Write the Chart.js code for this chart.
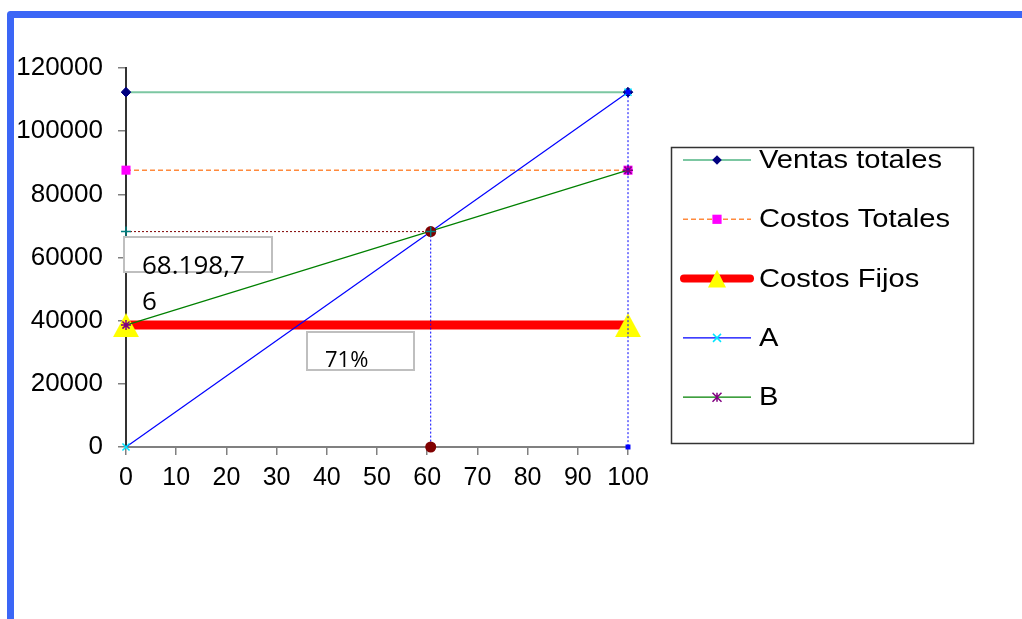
<!DOCTYPE html>
<html>
<head>
<meta charset="utf-8">
<title>Punto de equilibrio</title>
<script src="https://cdn.jsdelivr.net/npm/chart.js@4/dist/chart.umd.min.js"></script>
<style>
  html, body { margin: 0; padding: 0; background: #fff; overflow: hidden; }
  canvas { display: block; }
</style>
</head>
<body>
<canvas id="grafico" width="1022" height="619"></canvas>
<script>
// Volumen (% de la capacidad) y valores de cada serie
const volumenPct = [0, 100];
const ventasTotales = [112350, 112350];
const costosTotales = [87650, 87650];
const costosFijos = [38600, 38600];
const rectaA = [0, 112350];
const rectaB = [38600, 87650];

// Punto de equilibrio
const equilibrioPct = 60.7;
const equilibrioVentas = 68198.76;
const etiquetaEquilibrio = ['68.198,7', '6'];
const etiquetaMargen = '71%';

// Marcas de los ejes
const xTicks = [0, 10, 20, 30, 40, 50, 60, 70, 80, 90, 100];
const yTicks = [0, 20000, 40000, 60000, 80000, 100000, 120000];
const nombresSeries = ['Ventas totales', 'Costos Totales', 'Costos Fijos', 'A', 'B'];

const FUENTE = "'Liberation Sans', Arial, sans-serif";
const pares = (xs, ys) => xs.map((x, i) => ({ x, y: ys[i] }));

// Triángulo amarillo centrado por su caja (como marcador de imagen)
function triangulo(ancho, alto, color) {
  const c = document.createElement('canvas');
  c.width = ancho; c.height = alto;
  const g = c.getContext('2d');
  g.fillStyle = color;
  g.beginPath();
  g.moveTo(ancho / 2, 0); g.lineTo(ancho, alto); g.lineTo(0, alto); g.closePath();
  g.fill();
  return c;
}

const comunes = { fill: false, tension: 0, clip: false };

const series = [
  { label: nombresSeries[0], data: pares(volumenPct, ventasTotales),
    borderColor: '#7cc7a2', borderWidth: 2,
    pointStyle: 'rectRot', pointRadius: 4.8, pointBackgroundColor: '#000080', pointBorderColor: '#000080', pointBorderWidth: 1,
    order: 7, legendMarker: { style: 'diamond', size: 4.8, fill: '#000080' } },
  { label: nombresSeries[1], data: pares(volumenPct, costosTotales),
    borderColor: '#ff8a3d', borderWidth: 1.5, borderDash: [5, 3],
    pointStyle: 'rect', pointRadius: 6.4, pointBackgroundColor: '#ff00ff', pointBorderColor: '#ff00ff', pointBorderWidth: 0,
    order: 6, legendMarker: { style: 'square', size: 4.6, fill: '#ff00ff' } },
  { label: nombresSeries[2], data: pares(volumenPct, costosFijos),
    borderColor: '#ff0000', borderWidth: 9,
    pointStyle: triangulo(26, 24, '#ffff00'), pointRadius: 13,
    order: 8, legendMarker: { style: 'triangle', size: 9, fill: '#ffff00' } },
  { label: nombresSeries[3], data: pares(volumenPct, rectaA),
    borderColor: '#0000ff', borderWidth: 1.2,
    pointStyle: 'crossRot', pointRadius: 5, pointBorderColor: '#00e5ff', pointBorderWidth: 1.5,
    order: 5, legendMarker: { style: 'x', size: 4, stroke: '#00e5ff' } },
  { label: nombresSeries[4], data: pares(volumenPct, rectaB),
    borderColor: '#008000', borderWidth: 1.2,
    pointStyle: 'star', pointRadius: 5, pointBorderColor: '#800080', pointBorderWidth: 1.5,
    order: 4, legendMarker: { style: 'star', size: 4.5, stroke: '#800080' } }
];

// Líneas de referencia del punto de equilibrio (no aparecen en la leyenda)
const guias = [
  { data: [{ x: 0, y: equilibrioVentas }, { x: equilibrioPct, y: equilibrioVentas }],
    borderColor: '#800000', borderWidth: 1, borderDash: [2, 2],
    pointStyle: 'cross', pointRadius: 5, pointBorderColor: '#008080', pointBorderWidth: 1.5, order: 1, guia: true },
  { data: [{ x: equilibrioPct, y: equilibrioVentas }, { x: equilibrioPct, y: 0 }],
    borderColor: '#0000ff', borderWidth: 1, borderDash: [2, 2],
    pointStyle: 'circle', pointRadius: 5.5, pointBackgroundColor: '#800000', pointBorderColor: '#800000', pointBorderWidth: 0, order: 3, guia: true },
  { data: [{ x: 100, y: ventasTotales[1] }, { x: 100, y: 0 }],
    borderColor: '#0000ff', borderWidth: 1, borderDash: [2, 2],
    pointStyle: 'rect', pointRadius: 3.5, pointBackgroundColor: '#0000ff', pointBorderColor: '#0000ff', pointBorderWidth: 0, order: 2, guia: true }
];

const datasets = series.concat(guias).map(d => Object.assign({}, comunes, d));

// Marco azul del gráfico
const marco = {
  id: 'marco',
  beforeDraw(chart) {
    const ctx = chart.ctx;
    ctx.save();
    ctx.fillStyle = '#ffffff';
    ctx.fillRect(0, 0, chart.width, chart.height);
    ctx.strokeStyle = '#3b66f6';
    ctx.lineWidth = 7;
    ctx.lineJoin = 'round';
    ctx.strokeRect(10.5, 14.5, 1200, 800);
    ctx.restore();
  }
};

function dibujarMarcador(ctx, m, x, y) {
  ctx.save();
  ctx.beginPath();
  const s = m.size;
  if (m.style === 'diamond') {
    ctx.moveTo(x, y - s); ctx.lineTo(x + s, y); ctx.lineTo(x, y + s); ctx.lineTo(x - s, y); ctx.closePath();
    ctx.fillStyle = m.fill; ctx.fill();
  } else if (m.style === 'square') {
    ctx.fillStyle = m.fill; ctx.fillRect(x - s, y - s, 2 * s, 2 * s);
  } else if (m.style === 'triangle') {
    const h = s * 1.75;
    ctx.moveTo(x, y - h / 2 - 1); ctx.lineTo(x + s, y + h / 2 + 1); ctx.lineTo(x - s, y + h / 2 + 1); ctx.closePath();
    ctx.fillStyle = m.fill; ctx.fill();
  } else if (m.style === 'x') {
    ctx.moveTo(x - s, y - s); ctx.lineTo(x + s, y + s); ctx.moveTo(x + s, y - s); ctx.lineTo(x - s, y + s);
    ctx.strokeStyle = m.stroke; ctx.lineWidth = 1.5; ctx.stroke();
  } else if (m.style === 'star') {
    ctx.moveTo(x - s, y - s); ctx.lineTo(x + s, y + s); ctx.moveTo(x + s, y - s); ctx.lineTo(x - s, y + s);
    ctx.moveTo(x, y - s); ctx.lineTo(x, y + s);
    ctx.strokeStyle = m.stroke; ctx.lineWidth = 1.5; ctx.stroke();
  }
  ctx.restore();
}

// Leyenda a la derecha con línea y marcador de cada serie
const leyenda = {
  id: 'leyenda',
  afterDraw(chart) {
    const ctx = chart.ctx;
    const caja = { x: 671, y: 147, w: 302, h: 296 };
    ctx.save();
    ctx.fillStyle = '#ffffff';
    ctx.fillRect(caja.x, caja.y, caja.w, caja.h);
    ctx.strokeStyle = '#333333';
    ctx.lineWidth = 1.5;
    ctx.strokeRect(caja.x + 0.5, caja.y + 0.5, caja.w, caja.h);
    chart.data.datasets.forEach((ds, i) => {
      if (ds.guia) return;
      const y = 160 + i * 59.3;
      const grueso = ds.borderWidth > 4;
      ctx.save();
      ctx.beginPath();
      ctx.strokeStyle = ds.borderColor;
      ctx.lineWidth = grueso ? 8 : ds.borderWidth;
      ctx.lineCap = grueso ? 'round' : 'butt';
      ctx.setLineDash(ds.borderDash || []);
      ctx.moveTo(grueso ? 684 : 683, y);
      ctx.lineTo(grueso ? 750 : 751, y);
      ctx.stroke();
      ctx.restore();
      dibujarMarcador(ctx, ds.legendMarker, 717, y);
      ctx.save();
      ctx.fillStyle = '#000000';
      ctx.font = '26px ' + FUENTE;
      ctx.textBaseline = 'middle';
      ctx.textAlign = 'left';
      ctx.translate(759, y + 1);
      ctx.scale(1.12, 1);
      ctx.fillText(ds.label, 0, 0);
      ctx.restore();
    });
    ctx.restore();
  }
};

// Cuadros de texto con el valor de equilibrio y el margen
const cuadros = {
  id: 'cuadros',
  afterDraw(chart) {
    const ctx = chart.ctx;
    ctx.save();
    ctx.lineWidth = 2;
    ctx.strokeStyle = '#bfbfbf';
    ctx.fillStyle = '#ffffff';
    ctx.fillRect(124, 237, 148, 35);
    ctx.strokeRect(124, 237, 148, 35);
    ctx.fillRect(307, 332, 107, 38);
    ctx.strokeRect(307, 332, 107, 38);
    ctx.fillStyle = '#000000';
    ctx.textAlign = 'left';
    ctx.textBaseline = 'alphabetic';
    ctx.font = "26px 'Open Sans', sans-serif";
    ctx.fillText(etiquetaEquilibrio[0], 142, 274);
    ctx.fillText(etiquetaEquilibrio[1], 142, 310);
    ctx.font = "22px 'Open Sans', sans-serif";
    ctx.fillText(etiquetaMargen, 325, 367);
    ctx.restore();
  }
};

new Chart(document.getElementById('grafico'), {
  type: 'line',
  data: { datasets },
  options: {
    responsive: false,
    animation: false,
    devicePixelRatio: 1,
    events: [],
    layout: { padding: { left: 0, right: 394, top: 68, bottom: 0 } },
    plugins: { legend: { display: false }, tooltip: { enabled: false } },
    scales: {
      x: {
        type: 'linear', min: 0, max: 100,
        afterBuildTicks: s => { s.ticks = xTicks.map(v => ({ value: v })); },
        afterFit: s => { s.height = 172; },
        grid: { drawOnChartArea: false, drawTicks: true, tickLength: 8, color: '#808080', lineWidth: 1.5 },
        border: { display: true, color: '#808080', width: 2 },
        ticks: { font: { family: FUENTE, size: 25 }, color: '#000', padding: 8, maxRotation: 0, autoSkip: false,
                 callback: v => String(v) }
      },
      y: {
        type: 'linear', min: 0, max: 120000,
        afterBuildTicks: s => { s.ticks = yTicks.map(v => ({ value: v })); },
        afterFit: s => { s.width = 126; },
        grid: { drawOnChartArea: false, drawTicks: true, tickLength: 8, color: '#808080', lineWidth: 1.5 },
        border: { display: true, color: '#333333', width: 2 },
        ticks: { font: { family: FUENTE, size: 26 }, color: '#000', padding: 15, autoSkip: false,
                 callback: v => String(v) }
      }
    }
  },
  plugins: [marco, leyenda, cuadros]
});
</script>
</body>
</html>
